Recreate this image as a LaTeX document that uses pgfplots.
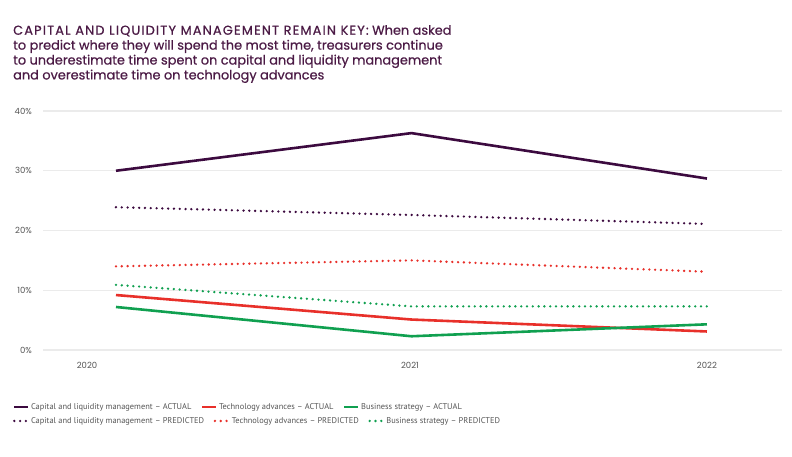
\documentclass[border=0pt]{standalone}
\usepackage{pgfplots}
\pgfplotsset{compat=1.18}
\usepackage{fontspec}
\setmainfont{Poppins}
\newfontfamily\titlefont[FakeBold=0.6]{Poppins}
\newfontfamily\titlecaps[LetterSpace=9, FakeBold=0.6]{Poppins}
\newfontfamily\legfont{PT Sans}
\definecolor{cpurple}{HTML}{3C0A3F}
\definecolor{ctitle}{HTML}{4B1A45}
\definecolor{cred}{HTML}{E8302A}
\definecolor{cgreen}{HTML}{10A050}
\definecolor{cgrid}{HTML}{EBEBEB}
\definecolor{ctick}{HTML}{555555}
\pgfplotsset{
  base/.style={
    at={(43pt,106pt)}, anchor=south west,
    scale only axis, width=739pt, height=239pt,
    xmin=-0.247, xmax=2.254, ymin=0, ymax=40,
    legend image code/.code={\draw[##1] (0pt,0pt) -- (14pt,0pt);},
    legend style={draw=none, fill=none, inner sep=0pt, outer sep=0pt,
      font=\legfont\fontsize{8.4}{10}\selectfont\color{ctick}, legend columns=-1,
      /tikz/every even column/.append style={column sep=8pt},
      nodes={inner sep=1.5pt}},
    legend cell align=left,
  },
  act/.style={line width=2.6pt, line join=round},
  pred/.style={line width=2.6pt, line cap=round, dash pattern=on 0pt off 5.8pt},
}
\begin{document}
\begin{tikzpicture}[x=1pt,y=1pt]
\useasboundingbox (0,0) rectangle (792,456);
\node[anchor=north west, inner sep=0pt, align=left, text=ctitle,
  font=\titlefont\fontsize{12.9}{14.9}\selectfont] at (13,431)
  {{\titlecaps CAPITAL AND LIQUIDITY MANAGEMENT REMAIN KEY:} When asked\\
   to predict where they will spend the most time, treasurers continue\\
   to underestimate time spent on capital and liquidity management\\
   and overestimate time on technology advances};
\begin{axis}[base,
  axis line style={draw=none}, major tick length=0pt,
  ymajorgrids, grid style={draw=cgrid, line width=1.3pt},
  ytick={0,10,20,30,40}, yticklabels={0\%,10\%,20\%,30\%,40\%},
  xtick={-0.098,0.995,2}, xticklabels={2020,2021,2022},
  tick label style={font=\fontsize{8.5}{10}\selectfont, text=ctick},
  yticklabel style={anchor=east, inner sep=0pt, xshift=-11pt},
  xticklabel style={anchor=center, inner sep=0pt, yshift=-15pt},
  legend style={at={(axis description cs:-0.0406,-0.2385)}, anchor=west},
]
\addplot[act, cpurple] coordinates {(0,30.0) (1,36.3) (2,28.7)};
\addlegendentry{Capital and liquidity management – ACTUAL}
\addplot[act, cred] coordinates {(0,9.2) (1,5.1) (2,3.1)};
\addlegendentry{Technology advances – ACTUAL}
\addplot[act, cgreen] coordinates {(0,7.2) (1,2.3) (2,4.3)};
\addlegendentry{Business strategy – ACTUAL}
\end{axis}
\begin{axis}[base, hide axis,
  legend style={at={(axis description cs:-0.0406,-0.297)}, anchor=west},
]
\addplot[pred, cpurple] coordinates {(0,23.9) (1,22.6) (2,21.1)};
\addlegendentry{Capital and liquidity management – PREDICTED}
\addplot[pred, cred] coordinates {(0,14.0) (1,15.0) (2,13.1)};
\addlegendentry{Technology advances – PREDICTED}
\addplot[pred, cgreen] coordinates {(0,10.9) (1,7.3) (2,7.3)};
\addlegendentry{Business strategy – PREDICTED}
\end{axis}
\end{tikzpicture}
\end{document}
